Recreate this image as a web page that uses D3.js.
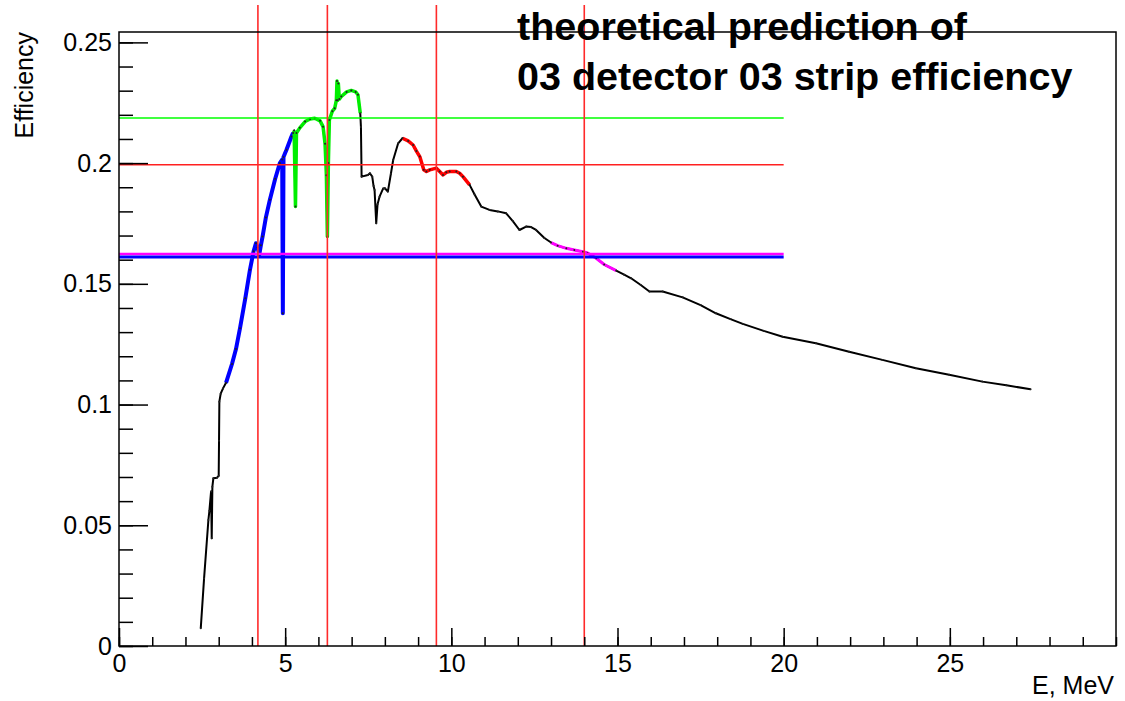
<!DOCTYPE html>
<html>
<head>
<meta charset="utf-8">
<script src="https://cdn.jsdelivr.net/npm/d3@7"></script>
<style>
  body { margin: 0; background: #fff; }
  text { font-family: 'Liberation Sans', Arial, Helvetica, sans-serif; }
</style>
</head>
<body>
<svg id="chart" width="1125" height="701"></svg>
<script>
// Efficiency curve (E in MeV).
var energies = [
  2.46, 2.56, 2.69, 2.72, 2.77, 2.79, 2.81, 2.84, 2.95, 3.00, 3.01, 3.02, 3.06, 3.13,
  3.22, 3.40, 3.52, 3.64, 3.80, 3.94, 4.05, 4.12, 4.17, 4.22, 4.27, 4.32, 4.42, 4.54,
  4.70, 4.84, 4.91, 4.93, 4.95, 5.04, 5.19, 5.24, 5.27, 5.31, 5.34, 5.44, 5.60, 5.75,
  5.89, 6.05, 6.14, 6.20, 6.24, 6.27, 6.30, 6.33, 6.42, 6.49, 6.54, 6.56, 6.58, 6.60,
  6.63, 6.69, 6.85, 6.99, 7.12, 7.19, 7.26, 7.28, 7.30, 7.49, 7.55, 7.62, 7.66, 7.69,
  7.74, 7.78, 7.84, 7.95, 8.00, 8.09, 8.18, 8.25, 8.40, 8.53, 8.70, 8.85, 8.95, 9.05,
  9.17, 9.25, 9.35, 9.55, 9.65, 9.75, 9.85, 9.95, 10.15, 10.25, 10.35, 10.55, 10.70,
  10.90, 11.15, 11.40, 11.65, 11.85, 12.05, 12.25, 12.40, 12.55, 12.80, 13.00, 13.20,
  13.46, 13.70, 13.96, 14.10, 14.36, 14.60, 14.96, 15.20, 15.41, 15.70, 15.96, 16.36,
  16.96, 17.50, 17.96, 18.40, 18.77, 19.40, 19.97, 20.97, 21.97, 22.97, 23.98, 24.98,
  25.98, 26.70, 27.43
];
var efficiency = [
  0.0073, 0.0280, 0.0522, 0.0560, 0.0640, 0.0446, 0.0660, 0.0695, 0.0697, 0.0705, 0.0850, 0.1012, 0.1045, 0.1067,
  0.1090, 0.1168, 0.1230, 0.1316, 0.1440, 0.1558, 0.1635, 0.1668, 0.1650, 0.1620, 0.1660, 0.1696, 0.1775, 0.1848,
  0.1935, 0.2000, 0.2015, 0.1378, 0.2025, 0.2055, 0.2110, 0.2125, 0.2135, 0.1820, 0.2125, 0.2146, 0.2172, 0.2183,
  0.2186, 0.2175, 0.2151, 0.2080, 0.1950, 0.1696, 0.2000, 0.2179, 0.2215, 0.2227, 0.2260, 0.2340, 0.2260, 0.2330,
  0.2265, 0.2276, 0.2295, 0.2301, 0.2295, 0.2283, 0.2207, 0.2150, 0.1944, 0.1951, 0.1958, 0.1944, 0.1905, 0.1889,
  0.1751, 0.1830, 0.1861, 0.1895, 0.1896, 0.1882, 0.1955, 0.2013, 0.2082, 0.2103, 0.2092, 0.2075, 0.2050, 0.2027,
  0.1972, 0.1965, 0.1972, 0.1979, 0.1965, 0.1951, 0.1962, 0.1965, 0.1965, 0.1958, 0.1944, 0.1910, 0.1870,
  0.1820, 0.1806, 0.1800, 0.1792, 0.1760, 0.1723, 0.1737, 0.1735, 0.1723, 0.1690, 0.1671, 0.1658,
  0.1647, 0.1640, 0.1633, 0.1628, 0.1606, 0.1580, 0.1555, 0.1538, 0.1523, 0.1495, 0.1468, 0.1468,
  0.1444, 0.1412, 0.1378, 0.1354, 0.1334, 0.1305, 0.1281, 0.1254, 0.1219, 0.1185, 0.1150, 0.1123,
  0.1095, 0.1080, 0.1063
];

// Highlighted energy windows of the curve.
var bandFrom = [3.22, 5.27, 8.53, 13.0];
var bandTo = [5.24, 7.26, 10.55, 14.96];
var bandColors = ['#0000ff', '#00ee00', '#ff0000', '#ff00ff'];
var bandWidths = [4, 3.5, 3.5, 3];

// Reference lines.
var cutEnergies = [4.18, 6.27, 9.55, 14.0];
var cutTop = 0.2655;
var levelValues = [0.2187, 0.1993, 0.1624, 0.1611];
var levelColors = ['#00ff00', '#ff2020', '#ff00ff', '#0000ff'];
var levelWidths = [1.5, 1.5, 2.5, 3];
var levelEnd = 20;

// Axis ticks.
var xTicks = [0, 5, 10, 15, 20, 25];
var xMinor = d3.range(0, 31, 1);
var yTicks = [0, 0.05, 0.1, 0.15, 0.2, 0.25];
var yMinor = d3.range(0, 0.2545, 0.01);

var titleLines = ['theoretical prediction of', '03 detector 03 strip efficiency'];

var margin = {left: 119, right: 9, top: 32, bottom: 55};
var width = 1125, height = 701;

var svg = d3.select('#chart');

var x = d3.scaleLinear().domain([0, 30]).range([margin.left, width - margin.right]);
var y = d3.scaleLinear().domain([0, 0.2543]).range([height - margin.bottom, margin.top]);

var points = energies.map(function(e, i) { return {e: e, v: efficiency[i]}; });
var line = d3.line()
    .x(function(d) { return x(d.e); })
    .y(function(d) { return y(d.v); });

// Whole curve in black.
svg.append('path')
    .datum(points)
    .attr('d', line)
    .style('fill', 'none')
    .style('stroke', '#000')
    .style('stroke-width', 2)
    .style('stroke-linejoin', 'round');

// Coloured windows on top.
bandFrom.forEach(function(from, i) {
  var sub = points.filter(function(d) { return d.e >= from && d.e <= bandTo[i]; });
  svg.append('path')
      .datum(sub)
      .attr('d', line)
      .style('fill', 'none')
      .style('stroke', bandColors[i])
      .style('stroke-width', bandWidths[i])
      .style('stroke-linejoin', 'round');
});

// Small markers at each point.
svg.append('g').selectAll('circle')
    .data(points)
  .enter().append('circle')
    .attr('cx', function(d) { return x(d.e); })
    .attr('cy', function(d) { return y(d.v); })
    .attr('r', 1)
    .style('fill', '#222');

// Horizontal levels.
svg.append('g').selectAll('line')
    .data(levelValues)
  .enter().append('line')
    .attr('x1', x(0))
    .attr('x2', x(levelEnd))
    .attr('y1', function(d) { return y(d); })
    .attr('y2', function(d) { return y(d); })
    .style('stroke', function(d, i) { return levelColors[i]; })
    .style('stroke-width', function(d, i) { return levelWidths[i]; });

// Vertical energy cuts.
svg.append('g').selectAll('line')
    .data(cutEnergies)
  .enter().append('line')
    .attr('x1', function(d) { return x(d); })
    .attr('x2', function(d) { return x(d); })
    .attr('y1', y(0))
    .attr('y2', y(cutTop))
    .style('stroke', '#ff2a2a')
    .style('stroke-width', 1.6);

// Axes.
svg.append('g')
    .attr('transform', 'translate(0,' + y(0) + ')')
    .call(d3.axisBottom(x).tickValues(xTicks).tickSize(-18).tickPadding(8).tickFormat(d3.format('d')));
svg.append('g')
    .attr('transform', 'translate(0,' + y(0) + ')')
    .call(d3.axisBottom(x).tickValues(xMinor).tickSize(-9).tickFormat(''));
svg.append('g')
    .attr('transform', 'translate(' + x(0) + ',0)')
    .call(d3.axisLeft(y).tickValues(yTicks).tickSize(-29).tickPadding(7).tickFormat(function(d) { return d === 0 ? '0' : String(+d.toFixed(2)); }));
svg.append('g')
    .attr('transform', 'translate(' + x(0) + ',0)')
    .call(d3.axisLeft(y).tickValues(yMinor).tickSize(-14).tickFormat(''));

svg.selectAll('.domain').remove();
svg.selectAll('.tick line').style('stroke', '#000').style('stroke-width', 1.5);
svg.selectAll('.tick text')
    .style('font-size', '25px')
    .style('fill', '#000');

// Frame.
svg.append('rect')
    .attr('x', x(0))
    .attr('y', y(0.2543))
    .attr('width', x(30) - x(0))
    .attr('height', y(0) - y(0.2543))
    .style('fill', 'none')
    .style('stroke', '#000')
    .style('stroke-width', 1.5);

// Axis titles.
svg.append('text')
    .attr('x', x(30) - 2)
    .attr('y', 694)
    .attr('text-anchor', 'end')
    .style('font-size', '25px')
    .text('E, MeV');

svg.append('text')
    .attr('transform', 'translate(33,' + y(0.2543) + ') rotate(-90)')
    .attr('text-anchor', 'end')
    .style('font-size', '25px')
    .text('Efficiency');

// Title.
svg.append('g').selectAll('text')
    .data(titleLines)
  .enter().append('text')
    .attr('x', 517)
    .attr('y', function(d, i) { return 40 + i * 50; })
    .style('font-size', '39.5px')
    .style('font-weight', 'bold')
    .text(function(d) { return d; });
</script>
</body>
</html>
